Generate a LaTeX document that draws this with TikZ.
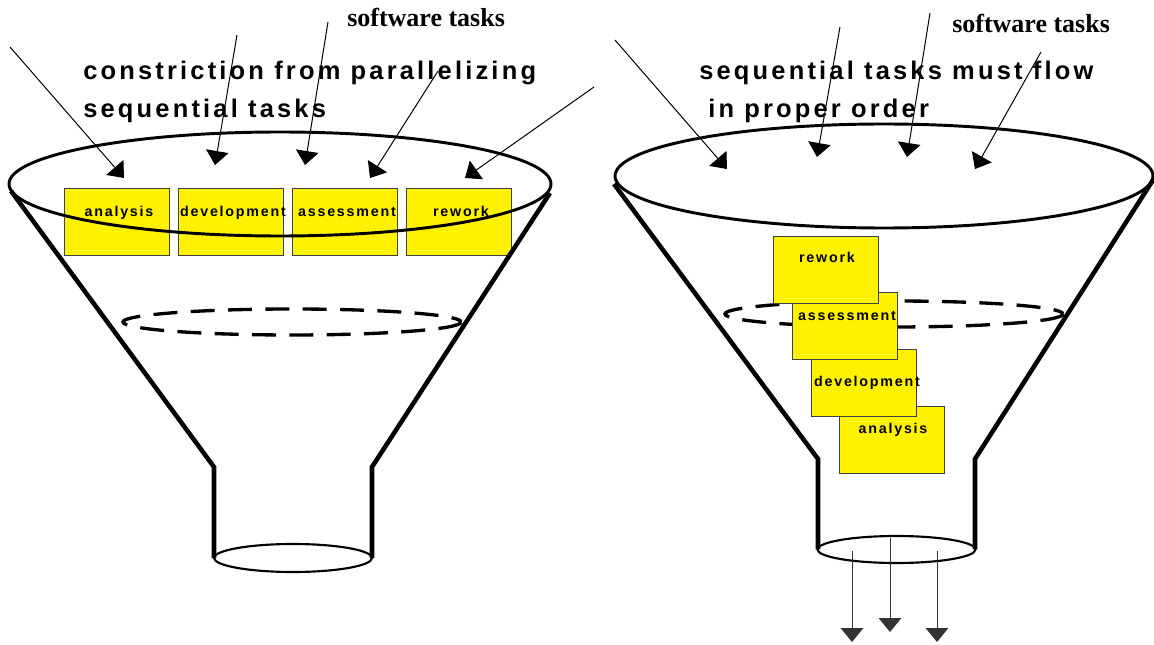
\documentclass[tikz,border=0pt]{standalone}
\usepackage{fontspec}
\usetikzlibrary{arrows.meta}
\newfontfamily\spacedsans[LetterSpace=12.5]{Liberation Sans}
\newfontfamily\tagserif{Liberation Serif}

\begin{document}
\begin{tikzpicture}[x=0.75pt,y=-0.75pt,
  funnel/.style={line width=3.4pt, line join=miter},
  rim/.style={line width=2.2pt},
  spout/.style={line width=1.6pt},
  level/.style={line width=2.5pt, dash pattern=on 18pt off 10pt},
  taskbox/.style={draw=black!75, fill=yellow, line width=0.75pt,
    minimum width=78.75pt, minimum height=50.25pt, inner sep=0pt},
  tasklabel/.style={font=\spacedsans\bfseries\fontsize{10.7}{12}\selectfont,
    inner sep=0pt, anchor=base},
  heading/.style={font=\spacedsans\bfseries\fontsize{19.1}{22}\selectfont,
    inner sep=0pt, anchor=base west},
  tag/.style={font=\tagserif\bfseries\fontsize{19.5}{22}\selectfont,
    inner sep=0pt, anchor=base west},
  feed/.style={line width=0.75pt, -{Triangle[width=17pt,length=10.5pt]}},
]
\useasboundingbox (0,0) rectangle (1154,645);

% ---------- left funnel: tasks side by side ----------
\node[taskbox] (lan) at (116.5,222.5) {};
\node[taskbox] (ldev) at (230.5,222.5) {};
\node[taskbox] (lass) at (344.5,222.5) {};
\node[taskbox] (lrew) at (458.5,222.5) {};
\node[tasklabel] (lan-t) at (119,217) {analysis};
\node[tasklabel] (ldev-t) at (233,217) {development};
\node[tasklabel] (lass-t) at (347,217) {assessment};
\node[tasklabel] (lrew-t) at (461,217) {rework};

\draw[rim] (280,184) ellipse [x radius=271, y radius=52];
\draw[level] (292,322) ellipse [x radius=169, y radius=13];
\draw[spout] (293,558) ellipse [x radius=79, y radius=14];

\coordinate (lf1) at (11,191);
\coordinate (lf2) at (214,467);
\coordinate (lf3) at (214,558);
\coordinate (rf1) at (550,193);
\coordinate (rf2) at (372,467);
\coordinate (rf3) at (372,558);
\draw[funnel] (lf1) -- (lf2) -- (lf3);
\draw[funnel] (rf1) -- (rf2) -- (rf3);

\coordinate (la1) at (10,47);   \coordinate (lb1) at (124,178);
\coordinate (la2) at (237,35);  \coordinate (lb2) at (215,165);
\coordinate (la3) at (328,22);  \coordinate (lb3) at (305,165);
\coordinate (la4) at (438,71);  \coordinate (lb4) at (370,178);
\coordinate (la5) at (594,87);  \coordinate (lb5) at (465,178);
\foreach \i in {1,...,5} \draw[feed] (la\i) -- (lb\i);

\node[tag] (ltag) at (347,27) {software tasks};
\node[heading] (lh1) at (83,80) {constriction from parallelizing};
\node[heading] (lh2) at (83,118) {sequential tasks};

% ---------- right funnel: tasks in sequence ----------
\draw[level] (894,314) ellipse [x radius=169, y radius=13];

\node[taskbox] (ran) at (891.5,440) {};
\node[tasklabel] (ran-t) at (893,434) {analysis};
\node[taskbox] (rdev) at (863.5,383.5) {};
\node[tasklabel] (rdev-t) at (867,387) {development};
\node[taskbox] (rass) at (844.5,326.5) {};
\node[tasklabel] (rass-t) at (847,321) {assessment};
\node[taskbox] (rrew) at (825.5,270.5) {};
\node[tasklabel] (rrew-t) at (827,263) {rework};

\draw[rim] (884,176) ellipse [x radius=269, y radius=52];
\draw[spout] (896.5,549.5) ellipse [x radius=79, y radius=13.5];

\coordinate (lg1) at (614,184);
\coordinate (lg2) at (818,459);
\coordinate (lg3) at (818,549);
\coordinate (rg1) at (1153,180);
\coordinate (rg2) at (975,459);
\coordinate (rg3) at (975,549);
\draw[funnel] (lg1) -- (lg2) -- (lg3);
\draw[funnel] (rg1) -- (rg2) -- (rg3);

\coordinate (ra1) at (615,40);   \coordinate (rb1) at (727,169);
\coordinate (ra2) at (840,27);   \coordinate (rb2) at (817,157);
\coordinate (ra3) at (930,13);   \coordinate (rb3) at (907,157);
\coordinate (ra4) at (1041,52);  \coordinate (rb4) at (975,169);
\foreach \i in {1,...,4} \draw[feed] (ra\i) -- (rb\i);

\coordinate (oa1) at (852,551);  \coordinate (ob1) at (852,642);
\coordinate (oa2) at (890,538);  \coordinate (ob2) at (890,632);
\coordinate (oa3) at (937,551);  \coordinate (ob3) at (937,642);
\foreach \i in {1,2,3} \draw[feed, draw=black!80] (oa\i) -- (ob\i);

\node[tag] (rtag) at (952,33) {software tasks};
\node[heading] (rh1) at (699,80) {sequential tasks must flow};
\node[heading] (rh2) at (708,118) {in proper order};
\end{tikzpicture}
\end{document}
